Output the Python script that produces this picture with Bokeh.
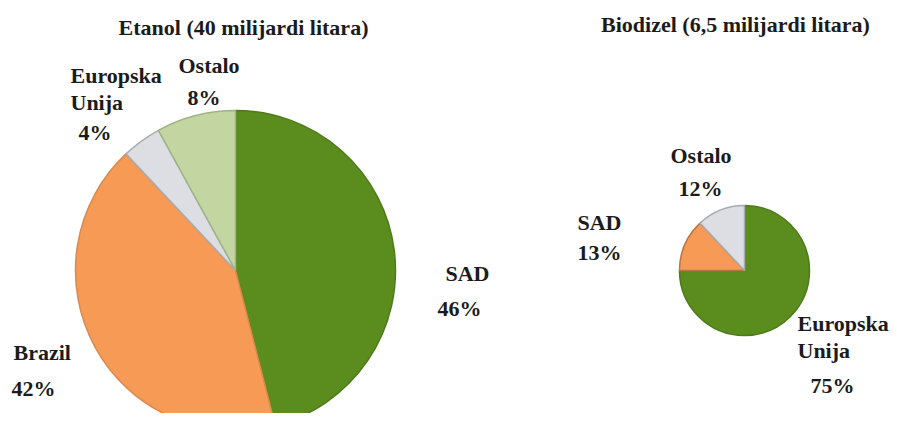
import math
from bokeh.plotting import figure
from bokeh.models import Range1d, ColumnDataSource
from bokeh.core.properties import value
from bokeh.embed import file_html
from bokeh.resources import INLINE

# ---- data ----
ethanol_title = "Etanol (40 milijardi litara)"
ethanol_categories = ["SAD", "Brazil", "Europska Unija", "Ostalo"]
ethanol_values = [46, 42, 4, 8]
ethanol_colors = ["#5B8C1E", "#F79A56", "#DCDEE3", "#C3D6A2"]
ethanol_edges = ["#4E7A1A", "#D98A50", "#A9ABAF", "#9FB486"]

biodiesel_title = "Biodizel (6,5 milijardi litara)"
biodiesel_categories = ["Europska Unija", "SAD", "Ostalo"]
biodiesel_values = [75, 13, 12]
biodiesel_colors = ["#5B8C1E", "#F79A56", "#DCDEE3"]
biodiesel_edges = ["#4E7A1A", "#B9754A", "#A9ABAF"]

W, H = 890, 413
IMG_H = 429

def Y(img_y):
    return IMG_H - img_y

p = figure(width=W, height=H, output_backend="svg", toolbar_location=None,
           x_range=Range1d(0, W), y_range=Range1d(IMG_H - H, IMG_H),
           min_border=0, min_border_left=0, min_border_right=0,
           min_border_top=0, min_border_bottom=0)
p.axis.visible = False
p.grid.visible = False
p.outline_line_color = None
p.background_fill_color = "white"
p.border_fill_color = "white"


def pie(cx, cy, r, values, colors, edges):
    total = float(sum(values))
    starts, ends = [], []
    cum = 0.0
    for v in values:
        starts.append(math.pi / 2 - 2 * math.pi * cum / total)
        cum += v
        ends.append(math.pi / 2 - 2 * math.pi * cum / total)
    src = ColumnDataSource(dict(x=[cx] * len(values), y=[cy] * len(values),
                                start=starts, end=ends,
                                fill=colors, line=edges))
    p.wedge(x="x", y="y", radius=r, start_angle="start", end_angle="end",
            direction="clock", fill_color="fill", line_color="line",
            line_width=1.5, source=src)


pie(235, Y(270), 160, ethanol_values, ethanol_colors, ethanol_edges)
pie(744, Y(270), 65, biodiesel_values, biodiesel_colors, biodiesel_edges)

FONT = value("Liberation Serif")
TXT = "#1b1b1b"

def label(x, img_y, text, align="left", size="22px"):
    p.text(x=[x], y=[Y(img_y)], text=[text], text_font=FONT,
           text_font_style="bold", text_font_size=size, text_color=TXT,
           text_align=align, text_baseline="middle")

def pct(v):
    return f"{v}%"

# titles
label(243, 27, ethanol_title, "center")
label(735, 24, biodiesel_title, "center")

# ethanol labels
e = dict(zip(ethanol_categories, ethanol_values))
label(178, 65, "Ostalo")
label(187, 97, pct(e["Ostalo"]))
label(70, 75, "Europska")
label(70, 102, "Unija")
label(78, 132, pct(e["Europska Unija"]))
label(445, 273, "SAD")
label(437, 308, pct(e["SAD"]))
label(13, 352, "Brazil")
label(11, 388, pct(e["Brazil"]))

# biodiesel labels
b = dict(zip(biodiesel_categories, biodiesel_values))
label(670, 155, "Ostalo")
label(678, 188, pct(b["Ostalo"]))
label(577, 222, "SAD")
label(577, 252, pct(b["SAD"]))
label(797, 323, "Europska")
label(797, 350, "Unija")
label(810, 385, pct(b["Europska Unija"]))

open("out.html", "w").write(file_html(p, INLINE))
